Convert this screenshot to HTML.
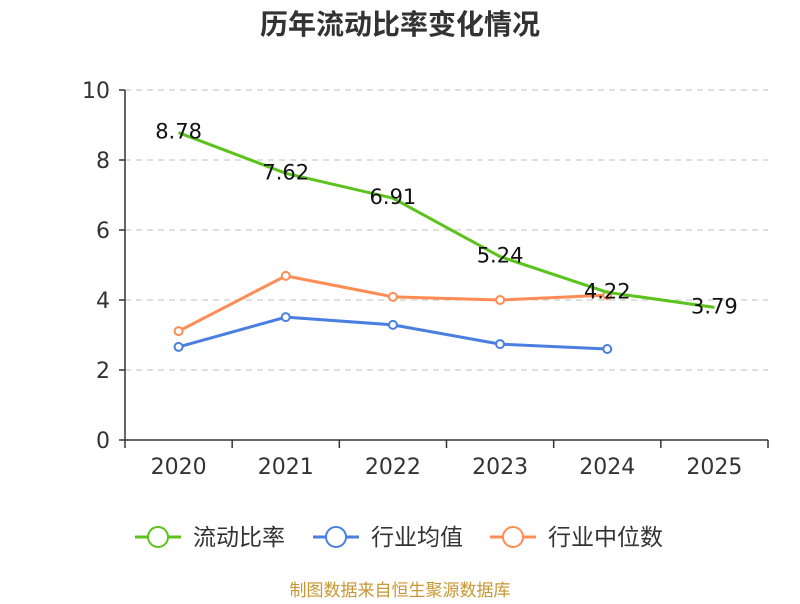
<!DOCTYPE html>
<html><head><meta charset="utf-8"><style>
body{margin:0;background:#fff;font-family:"DejaVu Sans","Noto Sans CJK SC",sans-serif}
</style></head><body>
<svg id="c" width="800" height="600" xmlns="http://www.w3.org/2000/svg">
<text x="400" y="34" text-anchor="middle" font-size="28" font-weight="bold" fill="#333" font-family="DejaVu Sans, Noto Sans CJK SC, sans-serif">历年流动比率变化情况</text>
<g id="grid"></g><g id="axes"></g><g id="series"></g><g id="legend"></g>
<text x="400" y="596" text-anchor="middle" font-size="17" fill="#c89632" font-family="DejaVu Sans, Noto Sans CJK SC, sans-serif">制图数据来自恒生聚源数据库</text>
</svg>
<script>
const categories=["2020","2021","2022","2023","2024","2025"];
const ratio=[8.78,7.62,6.91,5.24,4.22,3.79];
const industryAvg=[2.66,3.51,3.29,2.74,2.60,null];
const industryMedian=[3.11,4.69,4.09,4.00,4.14,null];
const yTicks=[0,2,4,6,8,10];
const NS="http://www.w3.org/2000/svg";
const x0=125,x1=768,y0=440,y1=90;
const bw=(x1-x0)/categories.length;
const xs=i=>x0+bw*(i+0.5);
const ys=v=>y0-(v/10)*(y0-y1);
function mk(tag,attrs,parent,text){const e=document.createElementNS(NS,tag);for(const k in attrs)e.setAttribute(k,attrs[k]);if(text!==undefined)e.textContent=text;document.getElementById(parent).appendChild(e);return e;}
const F="DejaVu Sans, Noto Sans CJK SC, sans-serif";
yTicks.forEach(t=>{
 if(t>0){const g=mk('line',{x1:x0,x2:x1,y1:ys(t),y2:ys(t),stroke:'#ccc','stroke-dasharray':'6,5','stroke-width':1.2},'grid');
 
 }
 const tk=mk('line',{x1:x0-6,x2:x0,y1:ys(t),y2:ys(t),stroke:'#333','stroke-width':1.5},'axes');
 
 
 const l=mk('text',{x:x0-15,y:ys(t)+8,'text-anchor':'end','font-size':22,fill:'#333','font-family':F},'axes',t);
 
 
});
const ya=mk('line',{x1:x0,x2:x0,y1:y1,y2:y0,stroke:'#333','stroke-width':1.5},'axes');


const xa=mk('line',{x1:x0,x2:x1,y1:y0,y2:y0,stroke:'#333','stroke-width':1.5},'axes');


for(let i=0;i<=categories.length;i++){
 const t=mk('line',{x1:x0+bw*i,x2:x0+bw*i,y1:y0,y2:y0+8,stroke:'#333','stroke-width':1.5},'axes');
 
 
}
categories.forEach((c,i)=>{
 const l=mk('text',{x:xs(i),y:474,'text-anchor':'middle','font-size':22,fill:'#333','font-family':F},'axes',c);
 
 
});
function series(vals,color,name,markers,labels){
 const pts=[];vals.forEach((v,i)=>{if(v!==null)pts.push([xs(i),ys(v),v]);});
 const p=mk('polyline',{points:pts.map(q=>q[0]+','+q[1]).join(' '),fill:'none',stroke:color,'stroke-width':3,'stroke-linejoin':'round'},'series');
 
 
 pts.forEach(q=>{
  if(markers){const c=mk('circle',{cx:q[0],cy:q[1],r:4,fill:'#fff',stroke:color,'stroke-width':2},'series');
  
  }
  if(labels){const t=mk('text',{x:q[0],y:q[1]+6,'text-anchor':'middle','font-size':21,fill:'#111','font-family':F},'series',q[2].toFixed(2));
  
  }
 });
}
series(industryMedian,'#ff8c55','industry-median',true,false);
series(industryAvg,'#4a7ee0','industry-average',true,false);
series(ratio,'#5cc21c','current-ratio',false,true);
const leg=[['流动比率','#5cc21c',135],['行业均值','#4a7ee0',313],['行业中位数','#ff8c55',490]];
leg.forEach(([n,c,x],i)=>{
 const g=mk('g',{},'legend');
 
 
 const a=document.createElementNS(NS,'line');a.setAttribute('x1',x);a.setAttribute('x2',x+46);a.setAttribute('y1',537);a.setAttribute('y2',537);a.setAttribute('stroke',c);a.setAttribute('stroke-width',3);g.appendChild(a);
 const b=document.createElementNS(NS,'circle');b.setAttribute('cx',x+23);b.setAttribute('cy',537);b.setAttribute('r',10);b.setAttribute('fill','#fff');b.setAttribute('stroke',c);b.setAttribute('stroke-width',2);g.appendChild(b);
 const t=document.createElementNS(NS,'text');t.setAttribute('x',x+58);t.setAttribute('y',545);t.setAttribute('font-size',23);t.setAttribute('fill','#333');t.setAttribute('font-family',F);t.textContent=n;g.appendChild(t);
});
</script>
</body></html>
